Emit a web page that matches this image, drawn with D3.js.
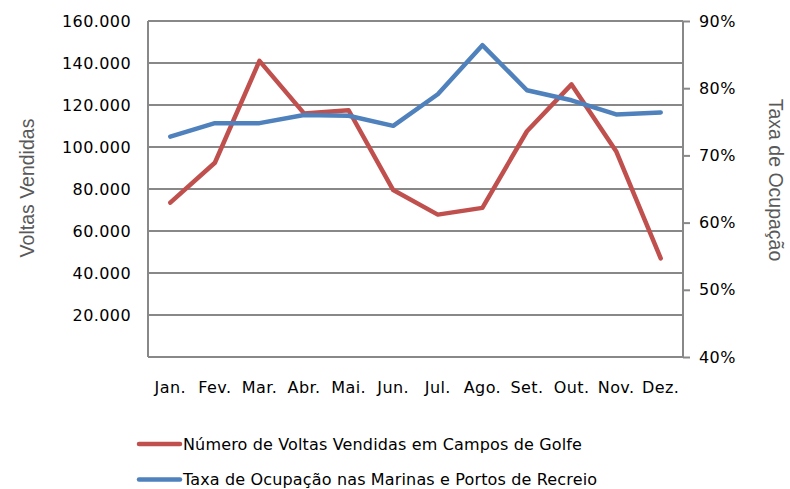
<!DOCTYPE html>
<html>
<head>
<meta charset="utf-8">
<script src="https://cdn.jsdelivr.net/npm/d3@7"></script>
<style>
  body { margin: 0; background: #fff; }
  svg text { font-family: Tahoma, "DejaVu Sans", Verdana, sans-serif; fill: #000; letter-spacing: 0.4px; }
  svg text.axis-title { font-family: "Liberation Sans", Arial, sans-serif; fill: #595959; font-size: 19.5px; letter-spacing: 0; }
  svg text.legend-text { letter-spacing: 0.15px; }
</style>
</head>
<body>
<script>
// chart data
const months = ["Jan.", "Fev.", "Mar.", "Abr.", "Mai.", "Jun.", "Jul.", "Ago.", "Set.", "Out.", "Nov.", "Dez."];
const voltas = [73500, 92500, 141000, 116000, 117500, 79500, 67800, 71000, 107500, 129800, 98000, 47000];
const ocupacao = [72.8, 74.8, 74.8, 76.0, 75.9, 74.4, 79.1, 86.4, 79.7, 78.2, 76.1, 76.4];
const leftTicks = [20000, 40000, 60000, 80000, 100000, 120000, 140000, 160000];
const rightTicks = [40, 50, 60, 70, 80, 90];
const seriesNames = ["Número de Voltas Vendidas em Campos de Golfe", "Taxa de Ocupação nas Marinas e Portos de Recreio"];

const W = 790, H = 489;
const M = { left: 148, right: 683, top: 21, bottom: 357 };
const RED = "#C0504D", BLUE = "#4F81BD", GRID = "#888888";
const FS = 16;

const svg = d3.select("body").append("svg").attr("width", W).attr("height", H);

const x = d3.scaleBand().domain(months).range([M.left, M.right]);
const yL = d3.scaleLinear().domain([0, 160000]).range([M.bottom, M.top]);
const yR = d3.scaleLinear().domain([40, 90]).range([M.bottom, M.top]);

// gridlines
svg.append("g").selectAll("line").data([0, ...leftTicks]).join("line")
  .attr("x1", M.left).attr("x2", M.right)
  .attr("y1", d => yL(d)).attr("y2", d => yL(d))
  .attr("stroke", GRID).attr("stroke-width", 2);

// left axis (no outer ticks)
const fmt = d => d3.format(",")(d).replace(/,/g, ".");
const gL = svg.append("g").attr("transform", `translate(${M.left},0)`)
  .call(d3.axisLeft(yL).tickValues(leftTicks).tickSize(0).tickPadding(17)
    .tickFormat(fmt));
gL.selectAll("text").attr("font-size", FS);
gL.select(".domain").attr("stroke", GRID).attr("stroke-width", 2)
  .attr("d", `M0,${M.top}V${M.bottom}`);

// right axis
const gR = svg.append("g").attr("transform", `translate(${M.right},0)`)
  .call(d3.axisRight(yR).tickValues(rightTicks).tickSize(7).tickPadding(9)
    .tickFormat(d => d + "%"));
gR.selectAll("text").attr("font-size", FS);
gR.selectAll("line").attr("stroke", GRID).attr("stroke-width", 2);
gR.select(".domain").attr("stroke", GRID).attr("stroke-width", 2)
  .attr("d", `M0,${M.top}V${M.bottom}`);

// x axis labels
const gX = svg.append("g").attr("transform", `translate(0,${M.bottom})`)
  .call(d3.axisBottom(x).tickSize(0).tickPadding(25));
gX.select(".domain").remove();
gX.selectAll("text").attr("font-size", FS);

// axis titles
svg.append("text").attr("class", "axis-title")
  .attr("transform", `translate(34,188) rotate(-90)`)
  .attr("text-anchor", "middle").text("Voltas Vendidas");
svg.append("text").attr("class", "axis-title")
  .attr("transform", `translate(769,180) rotate(90)`)
  .attr("text-anchor", "middle").text("Taxa de Ocupação");

// lines
const cx = m => x(m) + x.bandwidth() / 2;
const lineL = d3.line().x((d, i) => cx(months[i])).y(d => yL(d));
const lineR = d3.line().x((d, i) => cx(months[i])).y(d => yR(d));
svg.append("path").attr("d", lineL(voltas)).attr("fill", "none")
  .attr("stroke", RED).attr("stroke-width", 4.5).attr("stroke-linejoin", "round").attr("stroke-linecap", "round");
svg.append("path").attr("d", lineR(ocupacao)).attr("fill", "none")
  .attr("stroke", BLUE).attr("stroke-width", 4.5).attr("stroke-linejoin", "round").attr("stroke-linecap", "round");

// legend
const legend = svg.append("g");
[RED, BLUE].forEach((c, i) => {
  const ly = 444 + i * 35.5;
  legend.append("line").attr("x1", 139).attr("x2", 180).attr("y1", ly).attr("y2", ly)
    .attr("stroke", c).attr("stroke-width", 4.5).attr("stroke-linecap", "round");
  legend.append("text").attr("class", "legend-text").attr("x", 183).attr("y", ly + 5.5)
    .attr("font-size", FS).text(seriesNames[i]);
});
</script>
</body>
</html>
